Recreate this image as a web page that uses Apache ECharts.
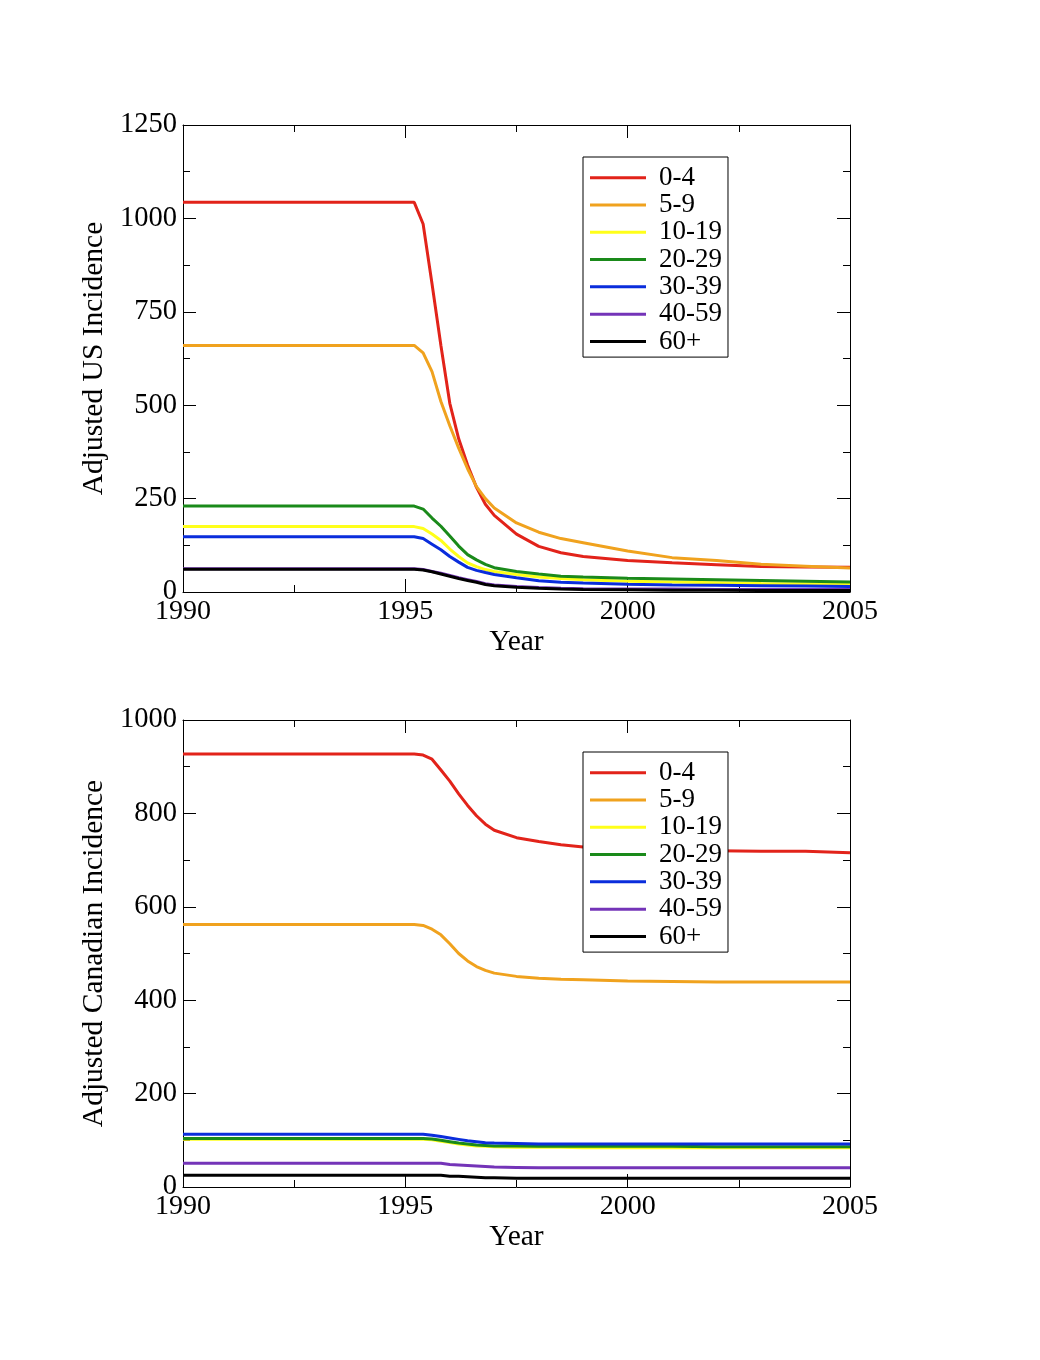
<!DOCTYPE html>
<html>
<head>
<meta charset="utf-8">
<script src="https://cdn.jsdelivr.net/npm/echarts@6/dist/echarts.min.js"></script>
<style>
	html, body { margin: 0; padding: 0; background: #fff; }
	#main { width: 1040px; height: 1360px; }
</style>
</head>
<body>
<div id="main"></div>
<script>
	// sample years shared by all the curves
	var years = [1990, 1995.2, 1995.4, 1995.6, 1995.8, 1996.0, 1996.2, 1996.4, 1996.6, 1996.8,
		1997.0, 1997.5, 1998, 1998.5, 1999, 2000, 2001, 2002, 2003, 2004, 2005];

	var groups = ['0-4', '5-9', '10-19', '20-29', '30-39', '40-59', '60+'];
	var colors = ['#e2231a', '#f0a21e', '#ffff1a', '#1a8a1a', '#0a2ddc', '#7434b8', '#000000'];

	// Adjusted US incidence
	var us04   = [1043, 1043, 985, 825, 660, 505, 410, 340, 280, 235, 205, 155, 122, 105, 95, 84, 78, 73, 68, 67, 66];
	var us59   = [660, 660, 640, 590, 510, 445, 385, 330, 282, 250, 225, 185, 160, 143, 132, 110, 92, 84, 74, 69, 64];
	var us1019 = [175, 175, 170, 155, 138, 115, 95, 78, 68, 60, 55, 47, 40, 36, 33, 29, 27, 25, 23, 22, 21];
	var us2029 = [230, 230, 222, 198, 176, 150, 123, 100, 86, 74, 65, 55, 48, 42, 40, 37, 35, 33, 31, 29, 27];
	var us3039 = [148, 148, 143, 128, 113, 95, 80, 66, 58, 52, 47, 38, 30, 26, 24, 21, 19, 18, 17, 16, 15];
	var us4059 = [62, 62, 60, 55, 50, 44, 38, 33, 28, 22, 19, 15, 12, 10, 9, 8, 8, 7, 7, 7, 7];
	var us60   = [61, 61, 59, 54, 48, 42, 36, 31, 26, 20, 17, 13, 10, 8, 7, 6, 5, 5, 4, 4, 4];

	// Adjusted Canadian incidence
	var ca04   = [927, 927, 925, 916, 893, 869, 842, 817, 795, 777, 764, 748, 740, 733, 728, 724, 721, 720, 719, 719, 716];
	var ca59   = [562, 562, 560, 552, 540, 521, 500, 484, 472, 464, 458, 451, 447, 445, 444, 441, 440, 439, 439, 439, 439];
	var ca1019 = [102, 102, 102, 101, 98, 95, 92, 90, 88, 87, 86, 85, 85, 85, 84, 84, 84, 84, 84, 84, 84];
	var ca2029 = [104, 104, 104, 103, 100, 97, 94, 92, 90, 89, 88, 88, 87, 87, 87, 87, 87, 86, 86, 86, 86];
	var ca3039 = [113, 113, 113, 111, 108, 105, 102, 99, 97, 95, 94, 93, 92, 92, 92, 92, 92, 92, 92, 92, 92];
	var ca4059 = [51, 51, 51, 51, 51, 48, 47, 46, 45, 44, 43, 42, 41, 41, 41, 41, 41, 41, 41, 41, 41];
	var ca60   = [25, 25, 25, 25, 25, 23, 23, 22, 21, 20, 20, 19, 19, 19, 19, 19, 19, 19, 19, 19, 19];

	var usSets = [us04, us59, us1019, us2029, us3039, us4059, us60];
	var caSets = [ca04, ca59, ca1019, ca2029, ca3039, ca4059, ca60];

	var font = 'Liberation Serif';

	function pairs(vals) {
		return years.map(function (y, i) { return [y, vals[i]]; });
	}

	function plain(v) { return String(v); }

	function xAx(grid, pos, labels) {
		return {
			type: 'value', gridIndex: grid, position: pos,
			min: 1990, max: 2005, interval: 5,
			name: labels ? 'Year' : '', nameLocation: 'middle', nameGap: 31,
			nameTextStyle: { fontFamily: font, fontSize: 29.5, color: '#000' },
			axisLine: { show: true, onZero: false, lineStyle: { color: '#000', width: 1 } },
			axisTick: { show: true, inside: true, length: 13, lineStyle: { color: '#000' } },
			minorTick: { show: true, splitNumber: 2, length: 7, lineStyle: { color: '#000' } },
			axisLabel: { show: labels, margin: 6, fontFamily: font, fontSize: 28, color: '#000', formatter: plain },
			splitLine: { show: false }
		};
	}

	function yAx(grid, pos, max, step, title) {
		return {
			type: 'value', gridIndex: grid, position: pos,
			min: 0, max: max, interval: step,
			name: title || '', nameLocation: 'middle', nameGap: 64,
			nameTextStyle: { fontFamily: font, fontSize: 29.5, color: '#000' },
			axisLine: { show: true, onZero: false, lineStyle: { color: '#000', width: 1 } },
			axisTick: { show: true, inside: true, length: 13, lineStyle: { color: '#000' } },
			minorTick: { show: true, splitNumber: 2, length: 7, lineStyle: { color: '#000' } },
			axisLabel: { show: !!title, margin: 6, fontFamily: font, fontSize: 28.5, color: '#000',
				formatter: plain, padding: [5, 0, 0, 0] },
			splitLine: { show: false }
		};
	}

	function legendAt(top) {
		return {
			orient: 'vertical', left: 583, top: top,
			data: groups,
			icon: 'rect', itemWidth: 56, itemHeight: 3, itemGap: 0,
			padding: [7, 6, 2, 7],
			backgroundColor: '#fff', borderColor: '#000', borderWidth: 1,
			textStyle: { fontFamily: font, fontSize: 27, lineHeight: 27.3, color: '#000', padding: [0, 0, 0, 8] },
			selectedMode: false
		};
	}

	var series = [];
	groups.forEach(function (g, i) {
		series.push({
			name: g, type: 'line', xAxisIndex: 0, yAxisIndex: 0,
			data: pairs(usSets[i]), symbol: 'none',
			lineStyle: { width: 3, color: colors[i] }, itemStyle: { color: colors[i] },
			animation: false
		});
	});
	groups.forEach(function (g, i) {
		series.push({
			name: g, type: 'line', xAxisIndex: 2, yAxisIndex: 2,
			data: pairs(caSets[i]), symbol: 'none',
			lineStyle: { width: 3, color: colors[i] }, itemStyle: { color: colors[i] },
			animation: false
		});
	});

	var chart = echarts.init(document.getElementById('main'), null, { width: 1040, height: 1360 });
	var option = {
		backgroundColor: '#fff',
		animation: false,
		grid: [
			{ left: 183, top: 125, width: 667, height: 467, containLabel: false },
			{ left: 183, top: 720, width: 667, height: 467, containLabel: false }
		],
		xAxis: [xAx(0, 'bottom', true), xAx(0, 'top', false), xAx(1, 'bottom', true), xAx(1, 'top', false)],
		yAxis: [
			yAx(0, 'left', 1250, 250, 'Adjusted US Incidence'), yAx(0, 'right', 1250, 250),
			yAx(1, 'left', 1000, 200, 'Adjusted Canadian Incidence'), yAx(1, 'right', 1000, 200)
		],
		legend: [legendAt(157), legendAt(752)],
		series: series
	};
	chart.setOption(option);
</script>
</body>
</html>
